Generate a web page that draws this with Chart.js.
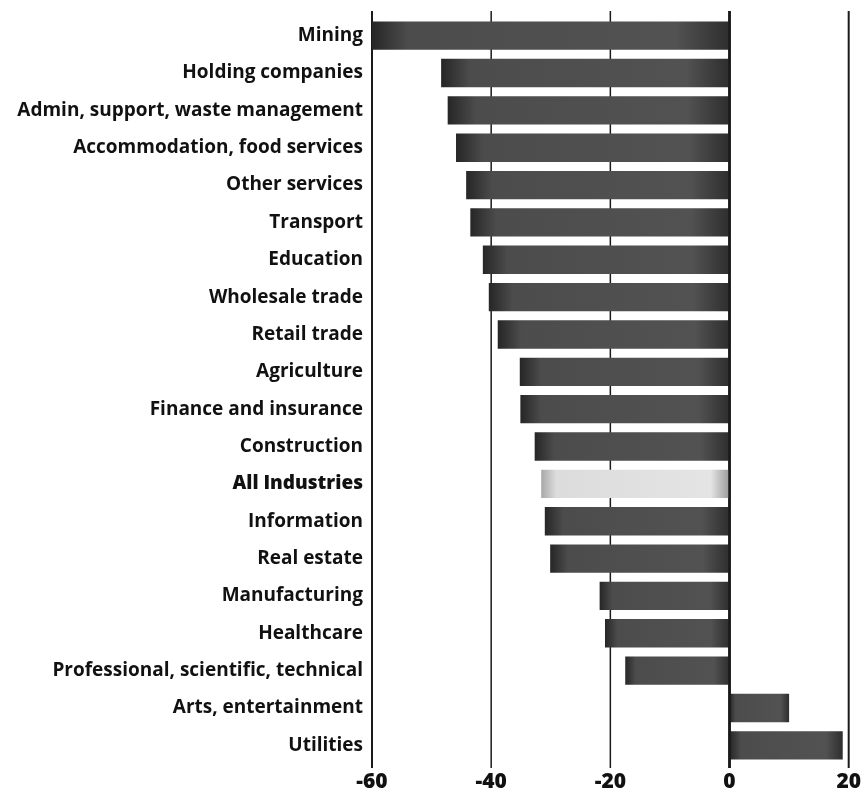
<!DOCTYPE html>
<html>
<head>
<meta charset="utf-8">
<script src="https://cdn.jsdelivr.net/npm/chart.js@4.4.1/dist/chart.umd.min.js"></script>
<style>
	html, body { margin: 0; padding: 0; background: #fff; }
	#wrap { width: 866px; height: 797px; }
</style>
</head>
<body>
<div id="wrap"><canvas id="industries"></canvas></div>
<script>
// industries, top to bottom
var categories = [
	"Mining", "Holding companies", "Admin, support, waste management",
	"Accommodation, food services", "Other services", "Transport", "Education",
	"Wholesale trade", "Retail trade", "Agriculture", "Finance and insurance",
	"Construction", "All Industries", "Information", "Real estate",
	"Manufacturing", "Healthcare", "Professional, scientific, technical",
	"Arts, entertainment", "Utilities"
];
// % change
var values = [
	-60, -48.4, -47.3, -45.9, -44.2, -43.5, -41.4, -40.4, -38.9, -35.2,
	-35.1, -32.7, -31.6, -31.0, -30.1, -21.8, -20.9, -17.5, 10.0, 19.0
];
var xTicks = [-60, -40, -20, 0, 20];
var highlight = "All Industries";

// darker at the ends, like the printed bars
function barFill(ctx) {
	var chart = ctx.chart;
	var light = categories[ctx.dataIndex] === highlight;
	if (!chart.chartArea || !chart.scales.x) {
		return light ? "#d4d4d4" : "#474747";
	}
	var x0 = chart.scales.x.getPixelForValue(0);
	var x1 = chart.scales.x.getPixelForValue(values[ctx.dataIndex]);
	var g = chart.ctx.createLinearGradient(Math.min(x0, x1), 0, Math.max(x0, x1), 0);
	if (light) {
		g.addColorStop(0, "#a8a8a8");
		g.addColorStop(0.08, "#dcdcdc");
		g.addColorStop(0.9, "#e4e4e4");
		g.addColorStop(1, "#9a9a9a");
	} else {
		g.addColorStop(0, "#262626");
		g.addColorStop(0.1, "#4c4c4c");
		g.addColorStop(0.85, "#525252");
		g.addColorStop(1, "#2e2e2e");
	}
	return g;
}

// vertical lines, drawn a little past the plot area like the original
var lineWidths = { "-60": 2, "-40": 1.5, "-20": 1.5, "0": 2.5, "20": 2 };
function drawLine(chart, v) {
	var ctx = chart.ctx;
	var x = chart.scales.x.getPixelForValue(v);
	ctx.save();
	ctx.strokeStyle = "#1a1a1a";
	ctx.lineWidth = lineWidths[String(v)];
	ctx.beginPath();
	ctx.moveTo(x, chart.chartArea.top - 6);
	ctx.lineTo(x, chart.chartArea.bottom + 4);
	ctx.stroke();
	ctx.restore();
}
var gridPlugin = {
	id: "gridPlugin",
	beforeDatasetsDraw: function(chart) {
		xTicks.forEach(function(v) { drawLine(chart, v); });
	},
	afterDatasetsDraw: function(chart) {
		drawLine(chart, 0);
	}
};

new Chart("industries", {
	type: "bar",
	data: {
		labels: categories,
		datasets: [{
			data: values,
			backgroundColor: barFill,
			borderWidth: 0,
			barPercentage: 0.76,
			categoryPercentage: 1
		}]
	},
	plugins: [gridPlugin],
	options: {
		indexAxis: "y",
		responsive: true,
		maintainAspectRatio: false,
		animation: false,
		layout: { padding: { top: 17, right: 13, left: 0, bottom: 0 } },
		plugins: {
			legend: { display: false },
			tooltip: { enabled: false }
		},
		scales: {
			x: {
				min: -60,
				max: 20,
				afterBuildTicks: function(scale) {
					scale.ticks = xTicks.map(function(v) { return { value: v }; });
				},
				afterFit: function(scale) { scale.height = 33; },
				grid: { display: false, drawTicks: false },
				border: { display: false },
				ticks: {
					padding: 5,
					color: "#111",
					font: { family: "Open Sans", size: 21, weight: "800" }
				}
			},
			y: {
				afterFit: function(scale) {
					scale.width = 372;
					scale.paddingTop = 0;
					scale.paddingBottom = 0;
				},
				grid: { display: false, drawTicks: false },
				border: { display: false },
				ticks: {
					padding: 9,
					color: "#111",
					autoSkip: false,
					font: function(ctx) {
						return {
							family: "Open Sans",
							size: 19,
							weight: categories[ctx.index] === highlight ? "800" : "700"
						};
					}
				}
			}
		}
	}
});
</script>
</body>
</html>
